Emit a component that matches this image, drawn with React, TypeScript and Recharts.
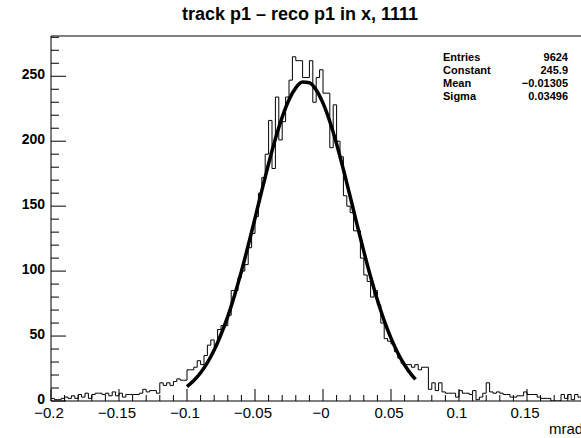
import { LineChart, Line, XAxis, YAxis, ReferenceLine } from "recharts";

// histogram: 160 bins of 0.0025 from -0.2 to 0.2
const BIN_LOW = -0.2;
const BIN_WIDTH = 0.0025;
const binCounts = [
  2, 1, 1, 2, 3, 2, 4, 2, 5, 3,
  6, 2, 5, 6, 6, 5, 6, 4, 7, 4,
  6, 3, 5, 5, 5, 5, 6, 9, 7, 8,
  8, 6, 14, 12, 14, 12, 15, 17, 16, 16,
  24, 24, 26, 31, 28, 35, 43, 47, 42, 55,
  58, 58, 66, 85, 85, 95, 100, 105, 118, 129,
  142, 160, 172, 190, 216, 179, 234, 201, 215, 234,
  247, 265, 262, 262, 249, 249, 262, 230, 249, 255,
  237, 237, 195, 228, 200, 188, 158, 150, 145, 131,
  131, 110, 97, 92, 80, 85, 74, 60, 48, 46,
  44, 38, 33, 29, 28, 28, 26, 28, 24, 26,
  26, 9, 14, 8, 14, 7, 6, 6, 6, 3,
  8, 6, 6, 5, 8, 1, 3, 6, 14, 7,
  6, 7, 6, 5, 5, 3, 3, 4, 4, 7,
  5, 5, 5, 3, 2, 2, 2, 0, 0, 0,
  5, 2, 5, 1, 5, 3, 2, 4, 3, 2,
];

// gaussian fit
const fitX = [
  -0.1, -0.095, -0.09, -0.085, -0.08, -0.075, -0.07, -0.065, -0.06, -0.055,
  -0.05, -0.045, -0.04, -0.035, -0.03, -0.025, -0.02, -0.015, -0.01, -0.005,
  0, 0.005, 0.01, 0.015, 0.02, 0.025, 0.03, 0.035, 0.04, 0.045,
  0.05, 0.055, 0.06, 0.065, 0.068,
];
const fitY = [
  11.1, 15.8, 21.8, 29.6, 39.3, 51.2, 65.2, 81.5, 99.8, 119.7,
  140.7, 161.9, 182.7, 201.9, 218.6, 232.0, 241.1, 245.5, 245.0, 239.5,
  229.3, 215.2, 197.9, 178.2, 157.3, 136.0, 115.2, 95.6, 77.8, 61.9,
  48.4, 37.0, 27.7, 20.3, 16.7,
];

const xMajorTicks = [-0.2, -0.15, -0.1, -0.05, 0, 0.05, 0.1, 0.15];
const xTickLabels = ["\u22120.2", "\u22120.15", "\u22120.1", "\u22120.05", "\u22120", "0.05", "0.1", "0.15"];
const yMajorTicks = [0, 50, 100, 150, 200, 250];
const yTickLabels = ["0", "50", "100", "150", "200", "250"];

const statNames = ["Entries", "Constant", "Mean", "Sigma"];
const statValues = ["9624", "245.9", "\u22120.01305", "0.03496"];

const histData = binCounts.map((c, i) => ({ x: BIN_LOW + i * BIN_WIDTH, y: c }));
histData.push({ x: BIN_LOW + binCounts.length * BIN_WIDTH, y: binCounts[binCounts.length - 1] });
const fitData = fitX.map((x, i) => ({ x, y: fitY[i] }));

const xMinorTicks: number[] = [];
for (let k = 0; k <= 40; k++) xMinorTicks.push((k - 20) / 100);
const yMinorTicks: number[] = [];
for (let k = 0; k <= 28; k++) yMinorTicks.push(k * 10);

const FONT = "'Liberation Sans', Arial, Helvetica, sans-serif";
const CHART_W = 610;
const CHART_H = 438;
const PLOT_LEFT = 51;
const PLOT_BOTTOM = 401;

const XTick = (props: any) => {
  const { x, payload } = props;
  const idx = xMajorTicks.findIndex((t) => Math.abs(t - payload.value) < 1e-6);
  const major = idx >= 0 || Math.abs(payload.value - 0.2) < 1e-6;
  return (
    <g>
      <line x1={x} x2={x} y1={PLOT_BOTTOM} y2={PLOT_BOTTOM - (major ? 12 : 6)} stroke="#000" />
      {idx >= 0 && (
        <text x={x - 2} y={PLOT_BOTTOM + 17} textAnchor="middle" fontSize={15} fontFamily={FONT} fill="#000">
          {xTickLabels[idx]}
        </text>
      )}
    </g>
  );
};

const YTick = (props: any) => {
  const { y, payload } = props;
  const idx = yMajorTicks.indexOf(payload.value);
  const major = idx >= 0;
  return (
    <g>
      <line x1={PLOT_LEFT} x2={PLOT_LEFT + (major ? 15 : 8)} y1={y} y2={y} stroke="#000" />
      {major && (
        <text x={PLOT_LEFT - 6} y={y - 2} dy="0.36em" textAnchor="end" fontSize={14} fontWeight="bold" fontFamily={FONT} fill="#000">
          {yTickLabels[idx]}
        </text>
      )}
    </g>
  );
};

export default function App() {
  return (
    <div style={{ position: "absolute", left: 0, top: 0, width: 581, height: 438, overflow: "hidden", background: "#fff" }}>
      <LineChart
        width={CHART_W}
        height={CHART_H}
        margin={{ top: 36, right: 15, left: 8, bottom: 7 }}
      >
        <XAxis
          dataKey="x"
          type="number"
          domain={[-0.2, 0.2]}
          ticks={xMinorTicks}
          interval={0}
          tick={XTick}
          tickLine={false}
          axisLine={{ stroke: "#000" }}
          height={30}
          allowDataOverflow
        />
        <YAxis
          type="number"
          domain={[0, 281]}
          ticks={yMinorTicks}
          interval={0}
          tick={YTick}
          tickLine={false}
          axisLine={{ stroke: "#000" }}
          width={43}
          allowDataOverflow
        />
        <ReferenceLine y={281} stroke="#000" ifOverflow="visible" />
        <ReferenceLine x={0.2} stroke="#000" ifOverflow="visible" />
        <Line
          data={histData}
          dataKey="y"
          type="stepAfter"
          stroke="#000"
          strokeWidth={1}
          dot={false}
          isAnimationActive={false}
        />
        <Line
          data={fitData}
          dataKey="y"
          type="monotone"
          stroke="#000"
          strokeWidth={3.5}
          dot={false}
          isAnimationActive={false}
        />
      </LineChart>
      <div style={{ position: "absolute", left: 0, width: 600, top: 4, textAlign: "center", fontFamily: FONT, fontWeight: "bold", fontSize: 18 }}>
        track p1 – reco p1 in x, 1111
      </div>
      {statNames.map((name, i) => (
        <div key={name} style={{ position: "absolute", left: 443, width: 125, top: 51 + i * 13, fontFamily: FONT, fontWeight: "bold", fontSize: 11, lineHeight: "13px" }}>
          <span>{name}</span>
          <span style={{ position: "absolute", right: 0 }}>{statValues[i]}</span>
        </div>
      ))}
      <div style={{ position: "absolute", left: 549, top: 420, fontFamily: FONT, fontSize: 15, whiteSpace: "nowrap" }}>mrad</div>
    </div>
  );
}
